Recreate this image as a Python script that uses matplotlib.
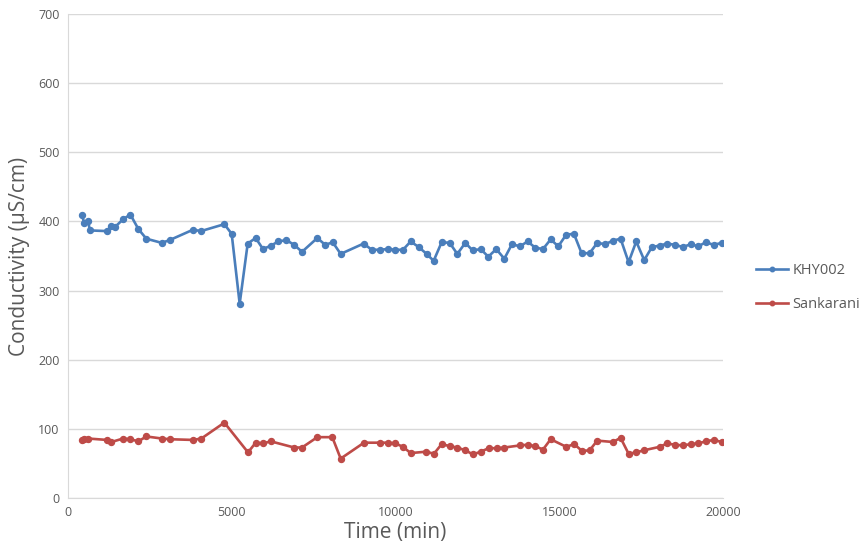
import matplotlib
matplotlib.use('Agg')
import matplotlib.pyplot as plt

# KHY002 series (time in min, conductivity in uS/cm)
khy_t = [437, 488, 620, 662, 1191, 1323, 1435, 1679, 1903, 2147, 2391, 2860, 3104,
         3816, 4060, 4773, 4997, 5241, 5486, 5730, 5953, 6197, 6421, 6665, 6909, 7144,
         7612, 7856, 8081, 8325, 9027, 9272, 9525, 9760, 9993, 10228, 10462, 10706,
         10950, 11164, 11409, 11653, 11886, 12131, 12355, 12599, 12833, 13077, 13321,
         13555, 13799, 14034, 14267, 14502, 14737, 14970, 15214, 15448, 15682, 15926,
         16160, 16404, 16628, 16872, 17117, 17350, 17594, 17829, 18064, 18297, 18541,
         18776, 19011, 19244, 19479, 19713, 19957]
khy_c = [409, 397, 400, 387, 386, 394, 392, 403, 410, 389, 375, 369, 373,
         388, 386, 396, 382, 281, 368, 376, 360, 365, 371, 373, 366, 356,
         376, 366, 370, 353, 368, 359, 359, 360, 359, 359, 371, 363,
         353, 343, 370, 369, 353, 369, 358, 360, 349, 360, 346,
         367, 364, 371, 362, 360, 374, 364, 381, 382, 354, 354,
         369, 367, 372, 375, 341, 371, 344, 363, 365, 368, 366,
         363, 367, 364, 370, 366, 369]

# Sankarani series
san_t = [437, 500, 620, 1191, 1323, 1679, 1903, 2147, 2391, 2870, 3104, 3816, 4070,
         4773, 5496, 5730, 5963, 6187, 6909, 7144, 7612, 8069, 8325, 9037, 9525, 9760,
         9993, 10228, 10462, 10939, 11174, 11409, 11653, 11886, 12131, 12365, 12599,
         12844, 13088, 13321, 13790, 14034, 14267, 14502, 14737, 15214, 15458, 15693,
         15926, 16160, 16640, 16872, 17117, 17350, 17584, 18064, 18297, 18531, 18776,
         19011, 19244, 19479, 19723, 19957]
san_c = [84, 85, 86, 84, 81, 86, 85, 82, 89, 86, 85, 84, 86,
         109, 66, 80, 79, 82, 73, 73, 88, 88, 57, 80, 80, 80,
         79, 74, 65, 67, 64, 78, 75, 73, 69, 63, 67,
         72, 72, 73, 76, 77, 75, 70, 85, 74, 78, 68,
         69, 83, 81, 87, 64, 66, 69, 74, 79, 77, 76,
         78, 79, 82, 84, 81]

plt.rcParams['font.family'] = ['Open Sans', 'DejaVu Sans']

fig = plt.figure(figsize=(8.59, 5.59), dpi=100)
ax = fig.add_axes([0.0792, 0.1091, 0.7625, 0.8659])

ax.plot(khy_t, khy_c, color='#4A7EBB', lw=1.9, marker='o', ms=4.3, label='KHY002')
ax.plot(san_t, san_c, color='#BE4B48', lw=1.9, marker='o', ms=4.3, label='Sankarani')

ax.set_xlim(0, 20000)
ax.set_ylim(0, 700)
ax.set_xticks([0, 5000, 10000, 15000, 20000])
ax.set_yticks(range(0, 701, 100))
ax.yaxis.grid(True, color='#D9D9D9', lw=1)
ax.set_axisbelow(True)
for s in ['top', 'right']:
    ax.spines[s].set_visible(False)
ax.spines['left'].set_color('#D9D9D9')
ax.spines['bottom'].set_color('#D9D9D9')
ax.tick_params(axis='both', length=0, labelsize=9, colors='#595959', pad=6)

ax.set_xlabel('Time (min)', fontsize=15, color='#595959', labelpad=2)
ax.set_ylabel('Conductivity (µS/cm)', fontsize=15, color='#595959', labelpad=6)

leg = ax.legend(loc='center left', bbox_to_anchor=(1.03, 0.435), frameon=False,
                fontsize=10.5, handlelength=2.2, labelspacing=1.35, handletextpad=0.3,
                markerscale=0.75)
for t in leg.get_texts():
    t.set_color('#595959')

fig.savefig('out.png', dpi=100)
